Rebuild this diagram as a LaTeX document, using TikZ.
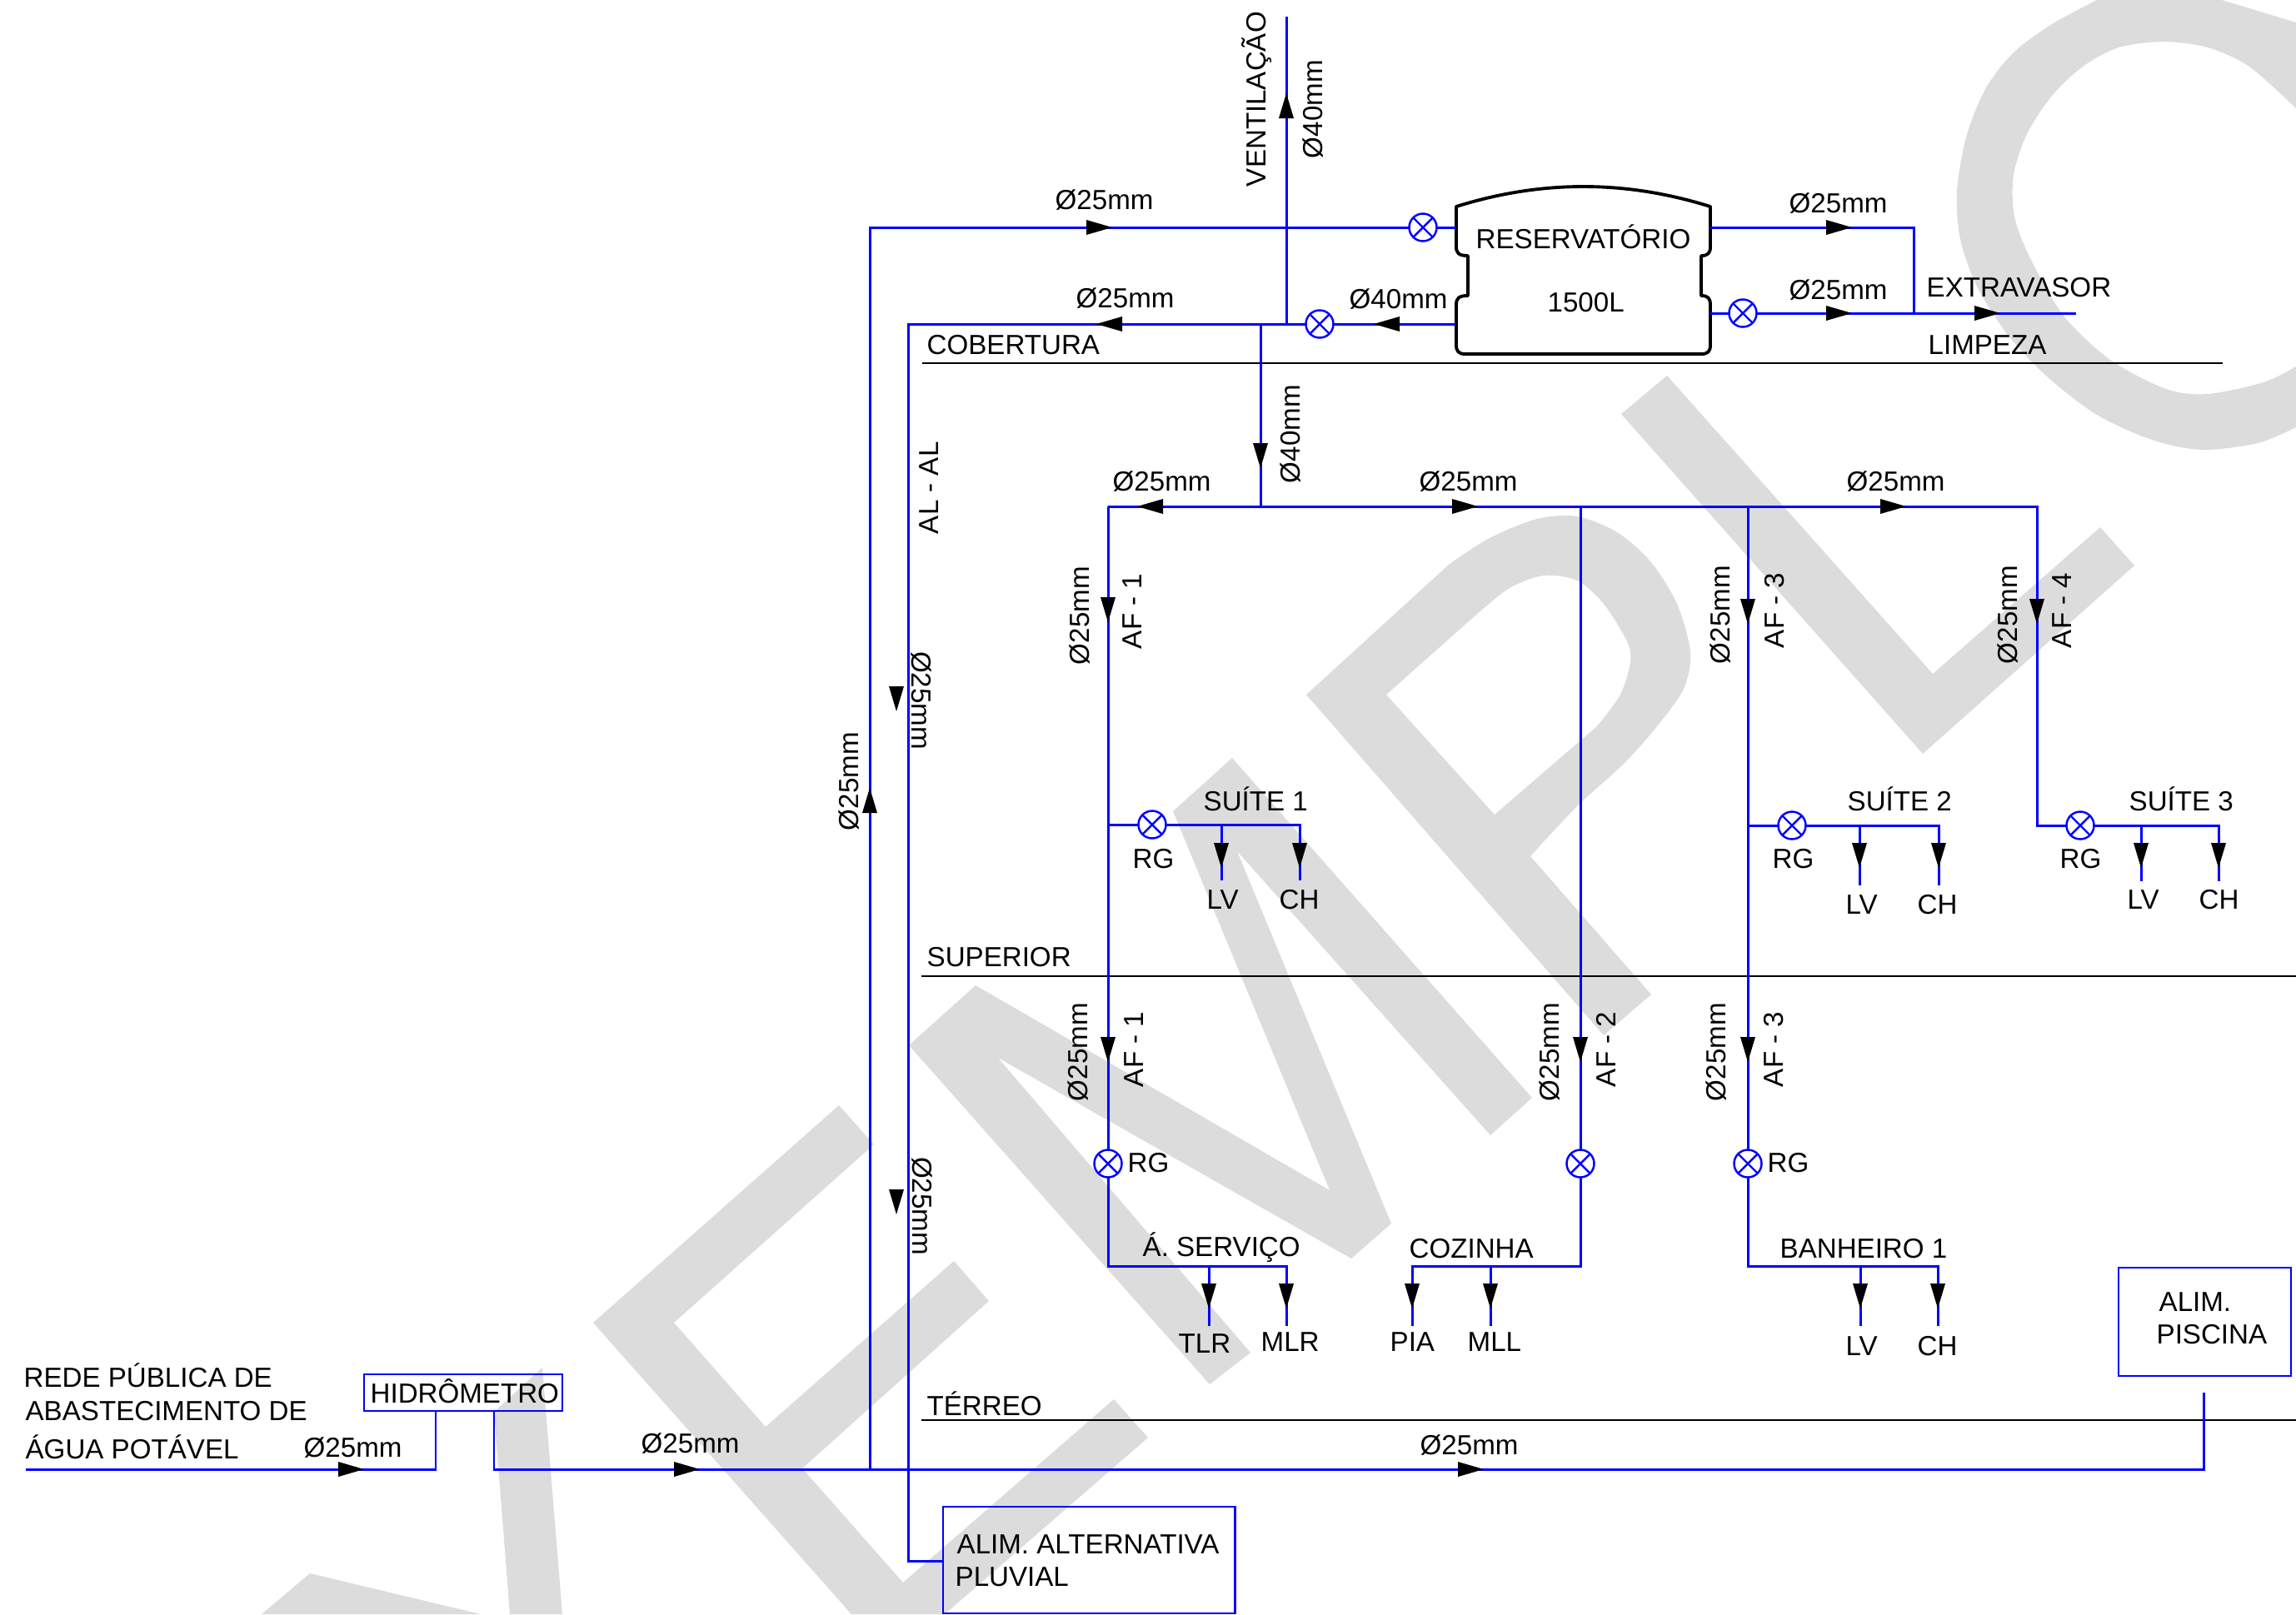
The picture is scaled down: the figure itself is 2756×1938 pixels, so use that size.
\documentclass[tikz,border=0pt]{standalone}
\usepackage{fontspec}
\setmainfont{Liberation Sans}
\definecolor{wm}{HTML}{DCDCDC}
\definecolor{pipeblue}{HTML}{0000FF}
\newcommand\flowR[2]{\fill[black] (#1,#2) -- ++(-31,-9) -- ++(0,18) -- cycle;}
\newcommand\flowL[2]{\fill[black] (#1,#2) -- ++(31,-9) -- ++(0,18) -- cycle;}
\newcommand\flowU[2]{\fill[black] (#1,#2) -- ++(-9,30) -- ++(18,0) -- cycle;}
\newcommand\flowD[2]{\fill[black] (#1,#2) -- ++(-9,-30) -- ++(18,0) -- cycle;}
\tikzset{
  pipe/.style={draw=pipeblue,line width=0.85pt,line join=miter},
  level/.style={draw=black,line width=0.6pt},
  lbl/.style={anchor=base west,inner sep=0pt,outer sep=0pt,font=\fontsize{9.42pt}{11pt}\selectfont,xshift=-0.1pt,yshift=-0.25pt},
  up/.style={anchor=base west,inner sep=0pt,outer sep=0pt,font=\fontsize{9.42pt}{11pt}\selectfont,rotate=90,yshift=0.6pt},
  down/.style={anchor=base west,inner sep=0pt,outer sep=0pt,font=\fontsize{9.42pt}{11pt}\selectfont,rotate=-90,yshift=0.4pt},
  valve/.style={circle,draw=pipeblue,line width=0.7pt,minimum size=0.33cm,inner sep=0pt,outer sep=0pt,
    path picture={\draw[pipeblue,line width=0.7pt] (path picture bounding box.north west)--(path picture bounding box.south east)
      (path picture bounding box.north east)--(path picture bounding box.south west);}},
  boxnode/.style={rectangle,draw=pipeblue,line width=0.8pt,inner sep=0pt,outer sep=0pt},
}
\begin{document}
\begin{tikzpicture}[x=0.01cm,y=-0.01cm]
\useasboundingbox (0,0) rectangle (2756,1938);
% watermark
\begin{scope}
\clip (0,0) rectangle (2756,1938);
\fill[wm] (372,1889) -- (577,1938) -- (314,1938) -- cycle;
\fill[wm] (651,1642) -- (675,1938) -- (612,1938) -- (593,1695) -- cycle;
\fill[wm] (712,1588) -- (1007,1327) -- (1049,1374) -- (809,1588) -- (919,1713) -- (1145,1514) -- (1187,1562) -- (963,1763) -- (1084,1900) -- (1337,1680) -- (1378,1726) -- (1134,1938) -- (1022,1938) -- cycle;
\fill[wm] (1452,1662) -- (1501,1624) -- (1198,1270) -- (1622,1511) -- (1670,1469) -- (1485,1022) -- (1789,1363) -- (1839,1318) -- (1479,910) -- (1408,974) -- (1596,1429) -- (1171,1183) -- (1091,1255) -- cycle;
\fill[wm,even odd rule] (1568,834) -- (1740,677) -- plot[smooth] coordinates {(1740,677) (1788,646) (1845,623) (1893,620) (1941,639) (1981,674) (2013,725) (2029,783) (2021,827) (1989,872) (1949,917) (1893,968) (1837,1028)} -- (1982,1194) -- (1925,1243) -- cycle
 (1664,834) -- (1772,738) -- plot[smooth] coordinates {(1772,738) (1812,706) (1853,691) (1893,697) (1925,725) (1953,770) (1957,795) (1945,834) (1917,872)} -- (1794,978) -- cycle;
\fill[wm] (2001,451) -- (1946,497) -- (2308,905) -- (2562,679) -- (2521,633) -- (2320,809) -- cycle;
\fill[wm] (2517,0) -- (2667,0) -- (2756,27) -- (2756,130)
 -- plot[smooth] coordinates {(2756,130) (2700,80) (2650,57) (2597,50) (2543,57) (2500,80) (2463,115) (2433,161) (2417,210) (2418,260) (2437,310) (2477,379) (2533,432) (2600,467) (2650,473) (2717,459) (2756,440)}
 -- (2756,513)
 -- plot[smooth] coordinates {(2756,513) (2710,532) (2643,540) (2583,528) (2517,498) (2457,452) (2410,402) (2373,344) (2353,287) (2349,230) (2360,165) (2383,107) (2417,63) (2463,29) (2517,0)} -- cycle;
\end{scope}
% levels
\coordinate (c1) at (1107,436); \coordinate (c2) at (2668,436);
\coordinate (s1) at (1106,1172); \coordinate (s2) at (2756,1172);
\coordinate (t1) at (1106,1705); \coordinate (t2) at (2756,1705);
\draw[level] (c1)--(c2); \draw[level] (s1)--(s2); \draw[level] (t1)--(t2);
% tank
\draw[black,line width=1.1pt,line join=round] (1748,248) .. controls (1850,216) and (1951,216) .. (2053,248)
 -- (2053,296) .. controls (2053,304) and (2050,307) .. (2042,307) -- (2042,355) .. controls (2050,355) and (2053,358) .. (2053,366)
 -- (2053,414) .. controls (2053,422) and (2050,425) .. (2042,425) -- (1759,425) .. controls (1751,425) and (1748,422) .. (1748,414)
 -- (1748,366) .. controls (1748,358) and (1751,355) .. (1762,355) -- (1762,307) .. controls (1751,307) and (1748,304) .. (1748,296) -- cycle;
\coordinate (tankA) at (1748,273); \coordinate (tankB) at (1748,389);
\coordinate (tankC) at (2053,273); \coordinate (tankD) at (2053,376);
% valves
\node[valve] (v1) at (1708,273) {};
\node[valve] (v2) at (1584,389) {};
\node[valve] (v3) at (2092,376) {};
\node[valve] (v4) at (1383,990) {};
\node[valve] (v5) at (2151,991) {};
\node[valve] (v6) at (2497,991) {};
\node[valve] (v7) at (1330,1397) {};
\node[valve] (v8) at (1897,1397) {};
\node[valve] (v9) at (2098,1397) {};
% boxes
\node[boxnode,minimum width=2.38cm,minimum height=0.44cm] (hidro) at (556,1672) {};
\node[boxnode,minimum width=3.5cm,minimum height=1.28cm] (pluv) at (1307,1873) {};
\node[boxnode,minimum width=2.07cm,minimum height=1.30cm] (pisc) at (2646.5,1587) {};
% coordinates
\coordinate (ventTop) at (1544,20); \coordinate (ventA) at (1544,273); \coordinate (ventB) at (1544,389);
\coordinate (supUp) at (1044,273); \coordinate (supDn) at (1044,1764);
\coordinate (altTop) at (1090,389); \coordinate (altBot) at (1090,1874);
\coordinate (dist) at (1513,389); \coordinate (distB) at (1513,608);
\coordinate (h1) at (1330,608); \coordinate (h2) at (1897,608); \coordinate (h3) at (2098,608); \coordinate (h4) at (2445,608);
\coordinate (ovf) at (2297,273); \coordinate (ovfB) at (2297,376); \coordinate (ovfE) at (2492,376);
\coordinate (in) at (31,1764); \coordinate (inB) at (523,1764);
\coordinate (outB) at (593,1764); \coordinate (piscB) at (2645,1764); \coordinate (piscT) at (2645,1672);
% pipes
\draw[pipe] (supDn) -- (supUp) -- (v1); \draw[pipe] (v1) -- (tankA);
\draw[pipe] (ventTop) -- (ventB);
\draw[pipe] (tankB) -- (v2); \draw[pipe] (v2) -- (altTop) -- (altBot) -- (altBot -| pluv.west);
\draw[pipe] (dist) -- (distB);
\draw[pipe] (h1) -- (h4) -- (h4 |- v6.west) -- (v6.west);
\draw[pipe] (tankC) -- (ovf) -- (ovfB);
\draw[pipe] (tankD) -- (v3); \draw[pipe] (v3) -- (ovfE);
\draw[pipe] (in) -- (inB) -- (inB |- hidro.south);
\draw[pipe] (outB |- hidro.south) -- (outB) -- (piscB) -- (piscT);
% AF-1 with suite 1, service
\coordinate (j1) at (1330,990); \coordinate (a1) at (1330,1520); \coordinate (a1e) at (1544,1520);
\draw[pipe] (h1) -- (v7); \draw[pipe] (v7) -- (a1) -- (a1e) -- (1544,1592);
\draw[pipe] (1451,1520) -- (1451,1592);
\draw[pipe] (j1) -- (v4); \draw[pipe] (v4) -- (1560,990) -- (1560,1057);
\draw[pipe] (1466,990) -- (1466,1057);
% AF-2
\draw[pipe] (h2) -- (v8); \draw[pipe] (v8) -- (1897,1520) -- (1695,1520) -- (1695,1592);
\draw[pipe] (1789,1520) -- (1789,1592);
% AF-3
\coordinate (j3) at (2098,991);
\draw[pipe] (h3) -- (v9); \draw[pipe] (v9) -- (2098,1520) -- (2326,1520) -- (2326,1592);
\draw[pipe] (2233,1520) -- (2233,1592);
\draw[pipe] (j3) -- (v5); \draw[pipe] (v5) -- (2327,991) -- (2327,1063);
\draw[pipe] (2232,991) -- (2232,1063);
% AF-4
\draw[pipe] (v6) -- (2663,991) -- (2663,1058);
\draw[pipe] (2570,991) -- (2570,1058);
% flow arrows
\flowU{1544}{112}
\flowR{1335}{273} \flowL{1316}{389} \flowL{1649}{389}
\flowR{2223}{273} \flowR{2223}{376} \flowR{2401}{376}
\flowD{1513}{562} \flowL{1365}{608} \flowR{1774}{608} \flowR{2288}{608}
\flowD{1330}{747} \flowD{2098}{749} \flowD{2445}{749}
\flowD{1330}{1275} \flowD{1897}{1275} \flowD{2098}{1275}
\flowD{1466}{1042} \flowD{1560}{1042} \flowD{2232}{1042} \flowD{2327}{1042} \flowD{2570}{1042} \flowD{2663}{1042}
\flowD{1451}{1571} \flowD{1544}{1571} \flowD{1695}{1571} \flowD{1789}{1571} \flowD{2233}{1571} \flowD{2326}{1571}
\flowR{437}{1764} \flowR{840}{1764} \flowR{1781}{1764}
\flowU{1044}{946} \flowD{1076}{854} \flowD{1076}{1458}
% labels
\node[lbl] (l1) at (1267,251) {Ø25mm};
\node[lbl] (l2) at (1292,369) {Ø25mm};
\node[lbl] (l3) at (1113,425) {COBERTURA};
\node[lbl] (l4) at (1336,589) {Ø25mm};
\node[lbl] (l5) at (1620,370) {Ø40mm};
\node[up] (l6) at (1522,224) {VENTILAÇÃO};
\node[up] (l7) at (1590,190) {Ø40mm};
\node[up] (l8) at (1563,580) {Ø40mm};
\node[up] (l9) at (1129,641) {AL - AL};
\node[lbl] (l10) at (2148,255) {Ø25mm};
\node[lbl] (l11) at (2148,359) {Ø25mm};
\node[lbl] (l12) at (1772,298) {RESERVATÓRIO};
\node[lbl] (l13) at (1858,374) {1500L};
\node[lbl] (l14) at (2313,356) {EXTRAVASOR};
\node[lbl] (l15) at (2315,425) {LIMPEZA};
\node[lbl] (l16) at (1704,589) {Ø25mm};
\node[lbl] (l17) at (2217,589) {Ø25mm};
\node[down] (l18) at (1094,1389) {Ø25mm};
\node[down] (l19) at (1093,782) {Ø25mm};
\node[up] (l20) at (1033,997) {Ø25mm};
\node[up] (l21) at (1310,798) {Ø25mm};
\node[up] (l22) at (1373,779) {AF - 1};
\node[up] (l23) at (2079,797) {Ø25mm};
\node[up] (l24) at (2144,778) {AF - 3};
\node[up] (l25) at (2424,797) {Ø25mm};
\node[up] (l26) at (2489,778) {AF - 4};
\node[up] (l27) at (1308,1322) {Ø25mm};
\node[up] (l28) at (1375,1305) {AF - 1};
\node[up] (l29) at (1874,1322) {Ø25mm};
\node[up] (l30) at (1942,1305) {AF - 2};
\node[up] (l31) at (2074,1322) {Ø25mm};
\node[up] (l32) at (2143,1305) {AF - 3};
\node[lbl] (l33) at (1445,973) {SUÍTE 1};
\node[lbl] (l34) at (1360,1042) {RG};
\node[lbl] (l35) at (1449,1091) {LV};
\node[lbl] (l36) at (1536,1091) {CH};
\node[lbl] (l37) at (2218,973) {SUÍTE 2};
\node[lbl] (l38) at (2128,1042) {RG};
\node[lbl] (l39) at (2216,1097) {LV};
\node[lbl] (l40) at (2302,1097) {CH};
\node[lbl] (l41) at (2556,973) {SUÍTE 3};
\node[lbl] (l42) at (2473,1042) {RG};
\node[lbl] (l43) at (2554,1091) {LV};
\node[lbl] (l44) at (2640,1091) {CH};
\node[lbl] (l45) at (1113,1160) {SUPERIOR};
\node[lbl] (l46) at (1354,1407) {RG};
\node[lbl] (l47) at (2122,1407) {RG};
\node[lbl] (l48) at (1372,1508) {Á. SERVIÇO};
\node[lbl] (l49) at (1692,1510) {COZINHA};
\node[lbl] (l50) at (2137,1510) {BANHEIRO 1};
\node[lbl] (l51) at (1415,1624) {TLR};
\node[lbl] (l52) at (1514,1622) {MLR};
\node[lbl] (l53) at (1669,1622) {PIA};
\node[lbl] (l54) at (1762,1622) {MLL};
\node[lbl] (l55) at (2216,1627) {LV};
\node[lbl] (l56) at (2302,1627) {CH};
\node[lbl] (l57) at (1113,1699) {TÉRREO};
\node[lbl] (l58) at (1705,1746) {Ø25mm};
\node[lbl] (l59) at (1149,1865) {ALIM. ALTERNATIVA};
\node[lbl] (l60) at (1147,1904) {PLUVIAL};
\node[lbl] (l61) at (29,1665) {REDE PÚBLICA DE};
\node[lbl] (l62) at (31,1705) {ABASTECIMENTO DE};
\node[lbl] (l63) at (31,1751) {ÁGUA POTÁVEL};
\node[lbl] (l64) at (365,1749) {Ø25mm};
\node[lbl] (l65) at (770,1744) {Ø25mm};
\node[lbl] (l66) at (445,1684) {HIDRÔMETRO};
\node[lbl] (l67) at (2592,1574) {ALIM.};
\node[lbl] (l68) at (2589,1613) {PISCINA};
\end{tikzpicture}
\end{document}
